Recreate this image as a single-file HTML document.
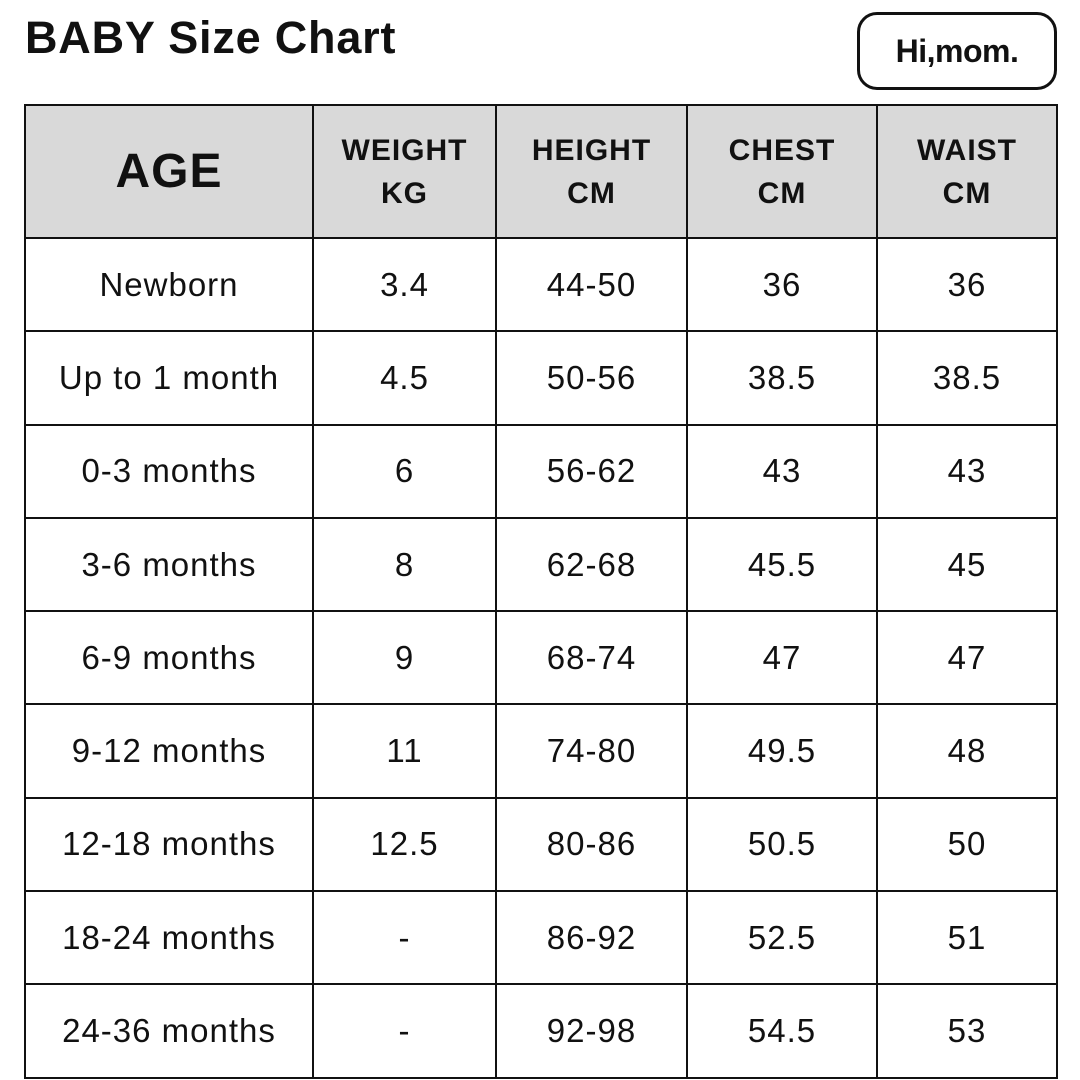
<!DOCTYPE html>
<html><head><meta charset="utf-8"><style>
body{margin:0;width:1080px;height:1080px;background:#fff;position:relative;overflow:hidden;font-family:"Liberation Sans",sans-serif;color:#111}
.title{position:absolute;left:25px;top:12px;font-size:45px;font-weight:bold;letter-spacing:0.8px}
.logo{position:absolute;left:857px;top:12px;width:194px;height:72px;border:3px solid #111;border-radius:20px;text-align:center;line-height:72px;font-size:32px;font-weight:bold;letter-spacing:-0.5px}
table{position:absolute;left:24px;top:104px;border-collapse:collapse;table-layout:fixed}
td{border:2px solid #111;text-align:center;font-size:33px;height:91.3px;padding:0;letter-spacing:1px}
tr.h td{background:#d9d9d9;font-weight:bold;font-size:30px;height:131px;line-height:43px;letter-spacing:1px}
tr.h td.age{font-size:48px}
</style></head><body>
<div class="title">BABY Size Chart</div>
<div class="logo">Hi,mom.</div>
<table>
<colgroup><col style="width:288px"><col style="width:183px"><col style="width:191px"><col style="width:190px"><col style="width:180px"></colgroup>
<tr class="h"><td class="age">AGE</td><td>WEIGHT<br>KG</td><td>HEIGHT<br>CM</td><td>CHEST<br>CM</td><td>WAIST<br>CM</td></tr>
<tr><td>Newborn</td><td>3.4</td><td>44-50</td><td>36</td><td>36</td></tr>
<tr><td>Up to 1 month</td><td>4.5</td><td>50-56</td><td>38.5</td><td>38.5</td></tr>
<tr><td>0-3 months</td><td>6</td><td>56-62</td><td>43</td><td>43</td></tr>
<tr><td>3-6 months</td><td>8</td><td>62-68</td><td>45.5</td><td>45</td></tr>
<tr><td>6-9 months</td><td>9</td><td>68-74</td><td>47</td><td>47</td></tr>
<tr><td>9-12 months</td><td>11</td><td>74-80</td><td>49.5</td><td>48</td></tr>
<tr><td>12-18 months</td><td>12.5</td><td>80-86</td><td>50.5</td><td>50</td></tr>
<tr><td>18-24 months</td><td>-</td><td>86-92</td><td>52.5</td><td>51</td></tr>
<tr><td>24-36 months</td><td>-</td><td>92-98</td><td>54.5</td><td>53</td></tr>
</table>
</body></html>
